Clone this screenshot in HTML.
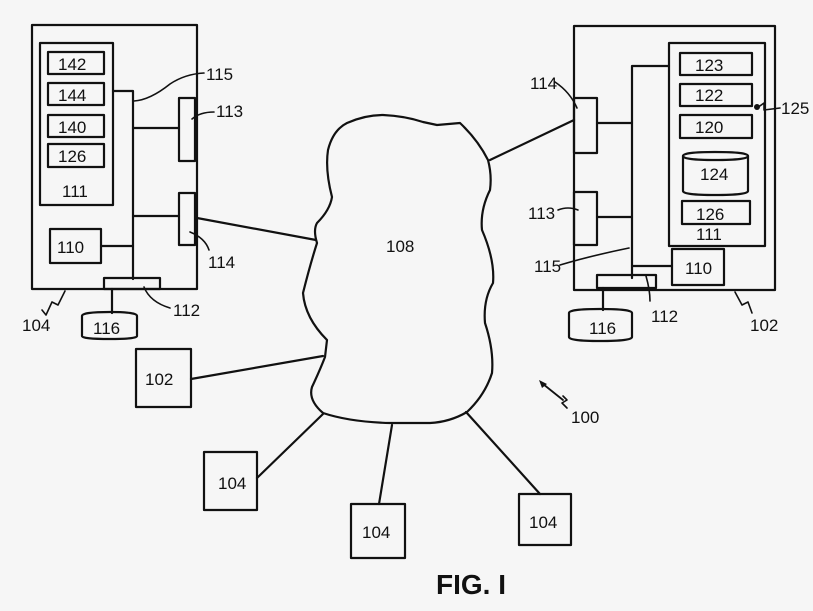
<!DOCTYPE html>
<html><head><meta charset="utf-8"><style>
html,body{margin:0;padding:0;background:#f6f6f6;}
svg{display:block;}
text{font-family:"Liberation Sans",sans-serif;font-size:17px;fill:#111;}
</style></head><body>
<svg width="813" height="611" viewBox="0 0 813 611" xmlns="http://www.w3.org/2000/svg">
<g fill="none" stroke="#111" stroke-width="2.2" stroke-linejoin="round" stroke-linecap="round">
<!-- LEFT panel -->
<rect x="32" y="25" width="165" height="264"/>
<rect x="40" y="43" width="73" height="162"/>
<rect x="48" y="52" width="56" height="22"/>
<rect x="48" y="83" width="56" height="22"/>
<rect x="48" y="115" width="56" height="22"/>
<rect x="48" y="144" width="56" height="23"/>
<rect x="50" y="229" width="51" height="34"/>
<path d="M113 91 H133 V279"/>
<path d="M133 128 H179 M133 216 H179 M101 246 H133"/>
<rect x="179" y="98" width="16" height="63"/>
<rect x="179" y="193" width="16" height="52"/>
<rect x="104" y="278" width="56" height="11"/>
<path d="M112 289 V313"/>
<path d="M82 316 Q82 312 110 312 Q137 312 137 316 V336 Q137 339 110 339 Q82 339 82 336 Z"/>
<path d="M134 101 Q150 100 170 84 Q185 74 204 73" stroke-width="1.6"/>
<path d="M192 119 Q200 112 214 112" stroke-width="1.6"/>
<path d="M190 232 Q205 238 209 250" stroke-width="1.6"/>
<path d="M144 287 Q150 302 170 308" stroke-width="1.6"/>
<path d="M65 291 L58 305 L52 302 L46 315 L42 310" stroke-width="1.6"/>
<!-- RIGHT panel -->
<rect x="574" y="26" width="201" height="264"/>
<rect x="669" y="43" width="96" height="203"/>
<rect x="680" y="53" width="72" height="22"/>
<rect x="680" y="84" width="72" height="22"/>
<rect x="680" y="115" width="72" height="23"/>
<path d="M683 156 Q683 152 715 152 Q748 152 748 156 V191 Q748 195 715 195 Q683 195 683 191 Z"/>
<path d="M683 156 Q683 160 715 160 Q748 160 748 156"/>
<rect x="682" y="201" width="68" height="23"/>
<rect x="672" y="249" width="52" height="36"/>
<path d="M669 66 H632 V278"/>
<path d="M597 123 H632 M597 217 H632 M632 266 H672"/>
<rect x="574" y="98" width="23" height="55"/>
<rect x="574" y="192" width="23" height="53"/>
<rect x="597" y="275" width="59" height="13"/>
<path d="M603 288 V310"/>
<path d="M569 313 Q569 309 600 309 Q632 309 632 313 V337 Q632 341 600 341 Q569 341 569 337 Z"/>
<path d="M555 82 Q570 92 577 108" stroke-width="1.6"/>
<path d="M558 210 Q568 206 578 210" stroke-width="1.6"/>
<path d="M560 265 Q590 256 629 248" stroke-width="1.6"/>
<path d="M646 276 Q650 290 650 301" stroke-width="1.6"/>
<path d="M735 292 L742 305 L748 302 L752 313" stroke-width="1.6"/>
<path d="M757 108 L764 103 L764 110 L780 108" stroke-width="1.6"/>
<!-- Cloud -->
<path d="M437 125 L460 123 Q478 140 488 160 Q492 175 490 190 Q480 210 482 230 Q495 260 493 283 Q483 300 485 323 Q494 350 492 373 Q485 395 467 412 Q450 422 430 423 L390 423 Q350 422 323 413 Q308 400 312 387 Q320 370 325 357 L327 340 Q305 318 303 293 Q310 265 317 243 Q313 230 317 223 Q330 210 332 197 Q325 170 328 150 Q333 130 347 123 Q365 115 383 115 Q405 116 423 122 Z"/>
<!-- connectors -->
<path d="M197 218 L316 240 M574 120 L490 160 M191 379 L323 356 M257 478 L323 414 M379 504 L392 425 M540 494 L466 412"/>
<rect x="136" y="349" width="55" height="58"/>
<rect x="204" y="452" width="53" height="58"/>
<rect x="351" y="504" width="54" height="54"/>
<rect x="519" y="494" width="52" height="51"/>
<path d="M563 400 L543 384" stroke-width="1.8"/>
<path d="M567 408 L562 403 L567 400 L563 396" stroke-width="1.6"/>
</g>
<path d="M539 380 L547 384 L542 388 Z" fill="#111"/>
<circle cx="757" cy="107" r="3" fill="#111"/>
<g>
<text x="58" y="70">142</text>
<text x="58" y="101">144</text>
<text x="58" y="133">140</text>
<text x="58" y="162">126</text>
<text x="62" y="197">111</text>
<text x="57" y="253">110</text>
<text x="93" y="334">116</text>
<text x="206" y="80">115</text>
<text x="216" y="117">113</text>
<text x="208" y="268">114</text>
<text x="173" y="316">112</text>
<text x="22" y="331">104</text>
<text x="695" y="71">123</text>
<text x="695" y="101">122</text>
<text x="695" y="133">120</text>
<text x="700" y="180">124</text>
<text x="696" y="220">126</text>
<text x="696" y="240">111</text>
<text x="685" y="274">110</text>
<text x="589" y="334">116</text>
<text x="530" y="89">114</text>
<text x="528" y="219">113</text>
<text x="534" y="272">115</text>
<text x="651" y="322">112</text>
<text x="750" y="331">102</text>
<text x="781" y="114">125</text>
<text x="386" y="252">108</text>
<text x="145" y="385">102</text>
<text x="218" y="489">104</text>
<text x="362" y="538">104</text>
<text x="529" y="528">104</text>
<text x="571" y="423">100</text>
<text x="436" y="594" style="font-size:28px;font-weight:bold">FIG. I</text>
</g>
</svg>
</body></html>
